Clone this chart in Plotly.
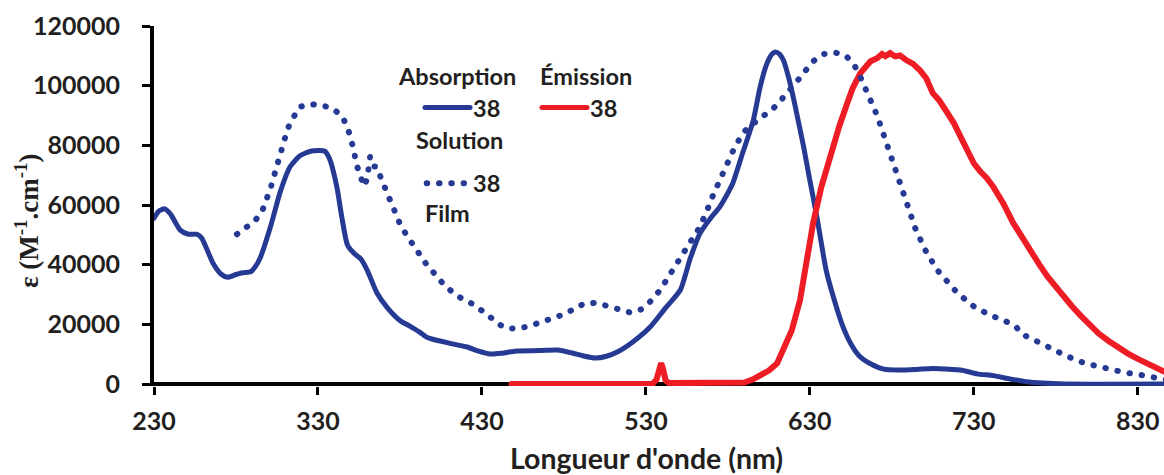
import plotly.graph_objects as go

# ---------------- data ----------------
abs_sol_nm = [230, 233, 236.5, 240, 246, 251, 256, 259, 266, 271, 275, 280, 284, 289, 292, 295,
              301, 307, 313, 319, 326, 334, 337, 341.5, 344.5, 348, 352, 356, 360, 366, 372,
              380, 386, 392, 396, 400, 410, 421, 428, 435, 442, 451, 465, 476, 485, 492, 499,
              506, 512.5, 522, 532.6, 542, 551, 557, 563, 570, 575, 579, 583, 589, 595.5,
              599.7, 603.8, 607, 609, 611.5, 613.9, 618, 622, 626.2, 630, 634.3, 640, 645,
              650, 655, 660, 667, 675, 685, 695, 705, 713, 722, 732, 742, 752, 762, 772, 785, 846]
abs_sol_val = [55600, 58000, 58700, 57000, 51600, 50200, 50200, 49000, 40500, 36800, 35800, 36700,
               37300, 37600, 39500, 42600, 52600, 64400, 72800, 76500, 78100, 78100, 75600, 66100,
               56100, 46600, 43800, 42000, 38200, 30500, 25800, 21300, 19400, 17400, 15800, 15000,
               13700, 12400, 11000, 10050, 10300, 11100, 11200, 11400, 10400, 9400, 8700, 9300,
               10700, 14100, 19100, 25500, 31500, 42000, 50500, 56000, 59300, 63000, 67300, 77400,
               88400, 99600, 107400, 110600, 111300, 110600, 108500, 100700, 90700, 79500, 68300,
               56000, 38000, 28000, 19500, 13500, 9500, 6800, 5000, 4700, 4900, 5200, 5000, 4700,
               3400, 2800, 1700, 770, 300, 0, 0]

film_nm = [280.6, 286, 291.6, 296, 298.8, 301.2, 303.2, 305.2, 307.5, 309.5, 311.6, 315, 318.7,
           325.6, 332.3, 338.8, 344.5, 348, 350.2, 352, 353.2, 355.3, 358, 360, 361.8, 363.5,
           365.9, 368.5, 371.5, 374.4, 377, 380, 383.8, 387.8, 392.3, 396.4, 401.9, 406.5, 412.2,
           418.3, 425.2, 431.3, 437, 443.1, 450.3, 457.6, 464.9, 472, 479.1, 485.8, 492.4, 499.7,
           506.6, 513.7, 520.8, 527, 532.6, 538.7, 546, 554, 563, 565.6, 568.2, 570.6, 573.3, 576,
           579, 582.7, 586.1, 590.6, 596, 602.2, 607.8, 612.9, 618, 622.7, 627.6, 632.3, 638.4,
           645.5, 652.2, 657.1, 660.8, 664.2, 667.3, 669.9, 672.6, 675, 677.4, 679.7, 682.1, 684.5,
           686.7, 689.2, 691.7, 694.3, 700.4, 707.7, 715.7, 720, 730, 740, 748, 756, 759.4, 766,
           773, 779.7, 786.4, 793.1, 800.5, 807.6, 815.1, 822.4, 830, 837.3, 844.2, 850]
film_val = [50200, 52700, 54700, 58000, 61900, 65800, 69700, 73700, 77600, 81700, 85700, 89300,
            92900, 93800, 93400, 92400, 89900, 86200, 82300, 78200, 74100, 70200, 66300, 68700,
            76200, 73000, 72800, 68900, 65000, 61100, 57300, 53700, 50100, 46600, 43200, 39900,
            36500, 33500, 30700, 28400, 26600, 24000, 21200, 19000, 18500, 19200, 20500, 21700,
            23200, 25000, 27000, 27200, 26100, 24800, 23900, 25000, 27600, 31500, 38200, 44900,
            52700, 55500, 59400, 62800, 66300, 70000, 73900, 77600, 81200, 84900, 87500, 89900,
            92400, 95500, 98500, 101800, 105200, 108300, 110600, 111100, 109900, 106900, 102900,
            99000, 95100, 91500, 87500, 83600, 79500, 75800, 71700, 67800, 63900, 60000, 56000,
            52200, 44900, 38200, 33200, 30500, 26000, 23000, 21500, 19000, 16700, 15100, 13100,
            11200, 9500, 7800, 6600, 5600, 4700, 3800, 3200, 2400, 1600, 1200]

em_nm = [448, 500, 534, 536.5, 538, 539.3, 540.5, 542, 544, 560, 580, 590, 595, 600, 605, 610,
         616, 619, 624, 628, 632, 637, 644, 648, 652.8, 656, 660.7, 664, 667, 671, 674, 676,
         679, 682, 685, 689, 693, 697, 701, 705, 709, 714, 718, 722, 726, 730, 734, 738, 742,
         748, 754, 760, 765, 770, 775, 780, 785, 790, 795, 800, 806, 812, 818, 824, 830, 836,
         840, 844, 846]
em_val = [0, 0, 0, 1500, 5500, 7000, 5000, 1200, 300, 300, 200, 500, 1500, 3000, 4500, 6900,
          13700, 18000, 28100, 40000, 53900, 66000, 79400, 86500, 94100, 99000, 104100, 106300,
          108200, 109200, 110600, 109900, 110900, 109800, 110100, 108500, 107300, 105200, 102500,
          97500, 95000, 90800, 87300, 82800, 78900, 74000, 71200, 69000, 66000, 60500, 54000,
          48500, 44000, 40000, 36000, 32500, 29000, 26000, 23000, 20000, 17000, 14500, 12200,
          10200, 8400, 6800, 5900, 4600, 4200]

x_ticks = [230, 330, 430, 530, 630, 730, 830]
y_ticks = [0, 20000, 40000, 60000, 80000, 100000, 120000]

BLUE = "#263A93"
RED = "#EE1D25"
TXT = "#231F20"

# ---------------- layout geometry (pixels) ----------------
W, H = 1164, 475
L, R, T, B = 154, 0, 26, 89
PW, PH = W - L - R, H - T - B


def px(x):
    return (x - L) / PW


def py(y):
    return (H - B - y) / PH


fig = go.Figure()
fig.add_trace(go.Scatter(x=abs_sol_nm, y=abs_sol_val, mode="lines",
                         line=dict(color=BLUE, width=5, shape="spline", smoothing=0.6),
                         showlegend=False))
fig.add_trace(go.Scatter(x=em_nm, y=em_val, mode="lines",
                         line=dict(color=RED, width=6),
                         showlegend=False))
fig.add_trace(go.Scatter(x=film_nm, y=film_val, mode="lines",
                         line=dict(color=BLUE, width=6, dash="0.5px,11.8px"),
                         showlegend=False))

tickfont = dict(family="Lato", size=25, color=TXT, weight="bold")
fig.update_xaxes(range=[230, 846], tickvals=x_ticks, ticktext=[str(v) for v in x_ticks],
                 showline=False, showgrid=False, zeroline=False, automargin=False,
                 ticks="outside", ticklen=8, tickwidth=3, tickcolor="black",
                 ticklabelstandoff=5, tickfont=tickfont)
fig.update_yaxes(range=[-670, 120000], tickvals=y_ticks, ticktext=[str(v) for v in y_ticks],
                 showline=True, linewidth=4, linecolor="black", showgrid=False,
                 zeroline=True, zerolinecolor="black", zerolinewidth=4, automargin=False,
                 ticks="outside", ticklen=8, tickwidth=3, tickcolor="black",
                 ticklabelstandoff=17, tickfont=tickfont)

lf = dict(family="Lato", size=23.5, color=TXT, weight="bold")
ann = []


def add_text(text, x, y, font=lf, **kw):
    ann.append(dict(text=text, x=px(x), y=py(y), xref="paper", yref="paper",
                    showarrow=False, xanchor="center", yanchor="middle", font=font, **kw))


add_text("Absorption", 457, 76)
add_text("Émission", 586, 76)
add_text("38", 486, 108)
add_text("38", 603, 108)
add_text("Solution", 459, 140)
add_text("38", 486, 183)
add_text("Film", 447, 213)
add_text("Longueur d'onde (nm)", 646, 458, font=dict(family="Lato", size=28.5, color=TXT, weight="bold"))
add_text("ε (M<sup>-1</sup>.cm<sup>-1</sup>)", 27, 221,
         font=dict(family="Liberation Serif", size=27, color=TXT, weight="bold"), textangle=-90)

shapes = [
    dict(type="line", xref="paper", yref="paper", x0=px(425), x1=px(470), y0=py(107.5), y1=py(107.5),
         line=dict(color=BLUE, width=5)),
    dict(type="line", xref="paper", yref="paper", x0=px(542), x1=px(587), y0=py(107.5), y1=py(107.5),
         line=dict(color=RED, width=5)),
    dict(type="line", xref="paper", yref="paper", x0=px(426.7), x1=px(464), y0=py(183.3), y1=py(183.3),
         line=dict(color=BLUE, width=6, dash="0.5px,11.8px")),
]

fig.update_layout(width=W, height=H, margin=dict(l=L, r=R, t=T, b=B, pad=0, autoexpand=False),
                  plot_bgcolor="white", paper_bgcolor="white",
                  annotations=ann, shapes=shapes, showlegend=False)

post = """
document.body.style.margin = '0';
document.body.style.padding = '0';
var gd = document.getElementById('{plot_id}');
function fixCaps(){
  gd.querySelectorAll('path.js-line').forEach(function(p){ p.style.strokeLinecap='round'; });
  gd.querySelectorAll('.shapelayer path').forEach(function(p){ p.style.strokeLinecap='round'; });
}
fixCaps();
gd.on('plotly_afterplot', fixCaps);
"""
fig.write_html("out.html", post_script=post, config={"displayModeBar": False})
